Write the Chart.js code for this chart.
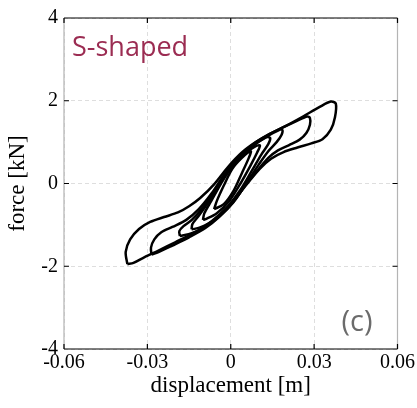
<!DOCTYPE html>
<html>
<head>
<meta charset="utf-8">
<script src="https://cdn.jsdelivr.net/npm/chart.js"></script>
<style>
  html, body { margin: 0; padding: 0; background: #fff; }
  #wrap { width: 417px; height: 408px; position: relative; }
</style>
</head>
<body>
<div id="wrap"><canvas id="myChart"></canvas></div>
<script>
// axis ticks
var xTicks = [-0.06, -0.03, 0, 0.03, 0.06];
var yTicks = [-4, -2, 0, 2, 4];

// hysteresis cycles, [displacement m, force kN]
var cycle1 = [[-0.0060,-0.62],[-0.0050,-0.42],[-0.0025,-0.05],[0.0005,0.35],[0.0040,0.62],[0.0072,0.78],
  [0.0065,0.62],[0.0040,0.25],[0.0010,-0.18],[-0.0025,-0.50],[-0.0060,-0.62]];
var cycle2 = [[-0.0100,-0.88],[-0.0095,-0.72],[-0.0070,-0.42],[-0.0035,0.00],[0.0005,0.42],[0.0050,0.72],[0.0090,0.90],[0.0105,0.92],
  [0.0095,0.75],[0.0070,0.42],[0.0035,0.00],[-0.0005,-0.42],[-0.0050,-0.72],[-0.0090,-0.86],[-0.0100,-0.88]];
var cycle3 = [[-0.0141,-1.11],[-0.0138,-0.98],[-0.0115,-0.78],[-0.0080,-0.45],[-0.0040,-0.02],[0.0005,0.42],[0.0050,0.75],[0.0095,0.98],[0.0130,1.12],[0.0142,1.10],
  [0.0135,0.95],[0.0110,0.70],[0.0075,0.30],[0.0035,-0.15],[-0.0010,-0.55],[-0.0060,-0.88],[-0.0110,-1.06],[-0.0141,-1.11]];
var cycle4 = [[-0.0183,-1.27],[-0.0185,-1.15],[-0.0170,-1.03],[-0.0140,-0.88],[-0.0105,-0.62],[-0.0065,-0.25],[-0.0020,0.22],[0.0030,0.62],[0.0080,0.92],[0.0130,1.14],[0.0170,1.28],[0.0185,1.30],
  [0.0183,1.18],[0.0165,1.00],[0.0135,0.78],[0.0100,0.45],[0.0060,0.05],[0.0015,-0.40],[-0.0035,-0.75],[-0.0085,-1.02],[-0.0140,-1.20],[-0.0183,-1.27]];
var cycle5 = [[-0.0285,-1.72],[-0.0287,-1.55],[-0.0275,-1.35],[-0.0250,-1.18],[-0.0210,-1.05],[-0.0160,-0.88],[-0.0115,-0.62],[-0.0070,-0.25],[-0.0020,0.25],[0.0030,0.65],[0.0080,0.95],[0.0130,1.16],[0.0190,1.36],[0.0240,1.52],[0.0275,1.62],[0.0285,1.58],
  [0.0285,1.42],[0.0272,1.22],[0.0248,1.06],[0.0210,0.93],[0.0170,0.80],[0.0135,0.62],[0.0100,0.35],[0.0055,-0.02],[0.0010,-0.45],[-0.0040,-0.80],[-0.0090,-1.07],[-0.0150,-1.30],[-0.0210,-1.50],[-0.0260,-1.66],[-0.0285,-1.72]];
var cycle6 = [[-0.0372,-1.95],[-0.0378,-1.65],[-0.0362,-1.35],[-0.0330,-1.10],[-0.0290,-0.93],[-0.0240,-0.81],[-0.0190,-0.70],[-0.0150,-0.55],[-0.0110,-0.35],[-0.0060,-0.02],[-0.0010,0.40],[0.0040,0.75],[0.0090,1.00],[0.0140,1.20],[0.0200,1.40],[0.0260,1.62],[0.0320,1.85],[0.0360,1.98],[0.0378,1.93],
  [0.0375,1.60],[0.0360,1.30],[0.0330,1.07],[0.0290,0.97],[0.0240,0.87],[0.0190,0.76],[0.0145,0.60],[0.0105,0.36],[0.0060,0.00],[0.0010,-0.42],[-0.0040,-0.75],[-0.0090,-1.02],[-0.0140,-1.22],[-0.0200,-1.42],[-0.0260,-1.62],[-0.0310,-1.78],[-0.0350,-1.92],[-0.0372,-1.95]];

var cycles = [cycle1, cycle2, cycle3, cycle4, cycle5, cycle6];

var datasets = cycles.map(function (c, i) {
  return {
    label: 'cycle ' + (i + 1),
    data: c.map(function (p) { return { x: p[0], y: p[1] }; }),
    showLine: true,
    borderColor: '#000',
    borderWidth: 2.5,
    pointRadius: 0,
    tension: 0.3,
    fill: false
  };
});

// frame, inward ticks and the two labels
var framePlugin = {
  id: 'frame',
  afterDraw: function (chart) {
    var ctx = chart.ctx, a = chart.chartArea;
    var sx = chart.scales.x, sy = chart.scales.y;
    ctx.save();
    ctx.lineWidth = 1.2;
    ctx.strokeStyle = '#b4b4b4';
    ctx.beginPath();
    ctx.moveTo(a.left, a.top); ctx.lineTo(a.left, a.bottom);
    ctx.moveTo(a.right, a.top); ctx.lineTo(a.right, a.bottom);
    ctx.stroke();
    ctx.strokeStyle = '#000';
    ctx.beginPath();
    ctx.moveTo(a.left, a.top); ctx.lineTo(a.right, a.top);
    ctx.moveTo(a.left, a.bottom); ctx.lineTo(a.right, a.bottom);
    xTicks.forEach(function (v) {
      var px = sx.getPixelForValue(v);
      ctx.moveTo(px, a.bottom); ctx.lineTo(px, a.bottom - 5);
      ctx.moveTo(px, a.top); ctx.lineTo(px, a.top + 5);
    });
    yTicks.forEach(function (v) {
      var py = sy.getPixelForValue(v);
      ctx.moveTo(a.left, py); ctx.lineTo(a.left + 5, py);
      ctx.moveTo(a.right, py); ctx.lineTo(a.right - 5, py);
    });
    ctx.stroke();

    ctx.textBaseline = 'alphabetic';
    ctx.textAlign = 'left';
    ctx.fillStyle = '#9b2c52';
    ctx.font = '27px "Open Sans"';
    ctx.fillText('S-shaped', a.left + 8, a.top + 38);
    ctx.fillStyle = '#6b6b6b';
    ctx.font = '29px "Open Sans"';
    ctx.textAlign = 'right';
    ctx.fillText('(c)', a.right - 25, a.bottom - 18);
    ctx.restore();
  }
};

var serif = 'Liberation Serif';

var config = {
  type: 'scatter',
  data: { datasets: datasets },
  options: {
    responsive: true,
    maintainAspectRatio: false,
    animation: false,
    layout: { padding: { top: 14, right: 19, left: 0, bottom: 0 } },
    plugins: { legend: { display: false }, tooltip: { enabled: false } },
    scales: {
      x: {
        type: 'linear',
        min: -0.06, max: 0.06,
        afterBuildTicks: function (s) { s.ticks = xTicks.map(function (v) { return { value: v }; }); },
        afterFit: function (s) { s.height = 59; },
        ticks: {
          color: '#000',
          padding: 2,
          font: { family: serif, size: 20 },
          callback: function (v) { return v === 0 ? '0' : Number(v).toFixed(2); }
        },
        grid: { color: '#dedede', lineWidth: 1, drawTicks: false },
        border: { display: false, dash: [4, 3] },
        title: { display: true, text: 'displacement [m]', color: '#000', font: { family: serif, size: 23 }, padding: { bottom: 8, top: 0 } }
      },
      y: {
        type: 'linear',
        min: -4, max: 4,
        afterBuildTicks: function (s) { s.ticks = yTicks.map(function (v) { return { value: v }; }); },
        afterFit: function (s) { s.width = 64; },
        ticks: {
          color: '#000',
          padding: 6,
          font: { family: serif, size: 20 },
          callback: function (v) { return String(v); }
        },
        grid: { color: '#dedede', lineWidth: 1, drawTicks: false },
        border: { display: false, dash: [4, 3] },
        title: { display: true, text: 'force [kN]', color: '#000', font: { family: serif, size: 23 }, padding: { top: 4, bottom: 0 } }
      }
    }
  },
  plugins: [framePlugin]
};

var myChart = new Chart(document.getElementById('myChart'), config);
</script>
</body>
</html>
